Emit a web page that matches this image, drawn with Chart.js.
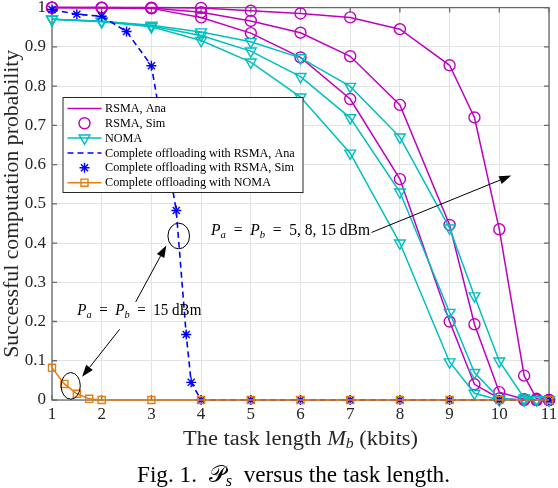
<!DOCTYPE html>
<html><head><meta charset="utf-8">
<script src="https://cdn.jsdelivr.net/npm/chart.js@4/dist/chart.umd.min.js"></script>
<style>html,body{margin:0;padding:0;background:#fff}canvas{display:block}</style>
</head><body>
<canvas id="c" width="558" height="488"></canvas>
<script>
// ---------------- data ----------------
const taskLen   = [1, 2, 3, 4, 5, 6, 7, 8, 9, 9.5, 10, 10.5, 10.75, 11];
const rsmaP15   = [1.0, 1.0, 1.0, 0.999, 0.992, 0.985, 0.975, 0.945, 0.853, 0.72, 0.435, 0.062, 0.003, 0.0];
const rsmaP8    = [1.0, 1.0, 0.999, 0.988, 0.966, 0.936, 0.876, 0.752, 0.446, 0.193, 0.02, 0.002, 0.0, 0.0];
const rsmaP5    = [1.0, 0.999, 0.998, 0.975, 0.935, 0.873, 0.767, 0.563, 0.2, 0.04, 0.004, 0.0, 0.0, 0.0];
const nomaP15   = [0.97, 0.965, 0.955, 0.938, 0.913, 0.872, 0.799, 0.67, 0.438, 0.265, 0.099, 0.005, 0.001, 0.0];
const nomaP8    = [0.97, 0.965, 0.953, 0.929, 0.889, 0.824, 0.719, 0.53, 0.223, 0.07, 0.004, 0.0, 0.0, 0.0];
const nomaP5    = [0.97, 0.964, 0.951, 0.916, 0.861, 0.772, 0.629, 0.40, 0.097, 0.017, 0.0, 0.0, 0.0, 0.0];
const coRsmaLen = [1, 1.5, 2, 2.5, 3, 3.5, 3.7, 3.8, 4, 5, 6, 7, 8, 9, 10, 11];
const coRsma    = [0.995, 0.983, 0.978, 0.939, 0.852, 0.483, 0.167, 0.045, 0, 0, 0, 0, 0, 0, 0, 0];
const coNomaLen = [1, 1.25, 1.5, 1.75, 2, 3, 4, 5, 6, 7, 8, 9, 10, 11];
const coNoma    = [0.082, 0.041, 0.016, 0.003, 0, 0, 0, 0, 0, 0, 0, 0, 0, 0];
const xTickValues = [1, 2, 3, 4, 5, 6, 7, 8, 9, 10, 11];
const xTickLabels = ['1', '2', '3', '4', '5', '6', '7', '8', '9', '10', '11'];
const yTickValues = [0, 0.1, 0.2, 0.3, 0.4, 0.5, 0.6, 0.7, 0.8, 0.9, 1];
const yTickLabels = ['0', '0.1', '0.2', '0.3', '0.4', '0.5', '0.6', '0.7', '0.8', '0.9', '1'];
const legendLabels = ['RSMA, Ana', 'RSMA, Sim', 'NOMA', 'Complete offloading with RSMA, Ana',
                      'Complete offloading with RSMA, Sim', 'Complete offloading with NOMA'];
const noteText1 = '5, 8, 15 dBm';
const noteText2 = '15 dBm';

// ---------------- styles ----------------
const SERIF = '"Liberation Serif", "Times New Roman", serif';
const MAG = '#BF00BF', CYA = '#00BFBF', BLU = '#0000FF', ORA = '#E47E12';
const AXC = '#262626';

const zip = (xs, ys) => xs.map((x, i) => ({x: x, y: ys[i]}));

function anaLine(ys) {
  return {data: zip(taskLen, ys), borderColor: MAG, borderWidth: 1.5, pointRadius: 0,
          showLine: true, fill: false, clip: false, order: 6};
}
function simPts(ys) {
  return {data: zip(taskLen, ys), borderColor: MAG, backgroundColor: 'rgba(0,0,0,0)', showLine: false,
          pointStyle: 'circle', pointRadius: 5.5, pointBorderWidth: 1.4, pointBorderColor: MAG,
          pointBackgroundColor: 'rgba(0,0,0,0)', clip: false, order: 5};
}
function nomaSet(ys) {
  return {data: zip(taskLen, ys), borderColor: CYA, borderWidth: 1.5, showLine: true, fill: false,
          pointStyle: 'triangle', pointRotation: 180, pointRadius: 6.2, pointBorderWidth: 1.4,
          pointBorderColor: CYA, pointBackgroundColor: 'rgba(0,0,0,0)', clip: false, order: 4};
}

const datasets = [
  anaLine(rsmaP15), anaLine(rsmaP8), anaLine(rsmaP5),
  simPts(rsmaP15), simPts(rsmaP8), simPts(rsmaP5),
  nomaSet(nomaP15), nomaSet(nomaP8), nomaSet(nomaP5),
  {data: zip(coRsmaLen, coRsma), borderColor: BLU, borderWidth: 1.6, borderDash: [6, 4], pointRadius: 0,
   showLine: true, fill: false, clip: false, order: 3},
  {data: zip(coRsmaLen, coRsma), showLine: false, pointStyle: 'star', pointRadius: 5, pointBorderWidth: 1.4,
   pointBorderColor: BLU, pointBackgroundColor: 'rgba(0,0,0,0)', borderColor: BLU, clip: false, order: 2},
  {data: zip(coNomaLen, coNoma), borderColor: ORA, borderWidth: 1.5, showLine: true, fill: false,
   pointStyle: 'rect', pointRadius: 5, pointBorderWidth: 1.4, pointBorderColor: ORA,
   pointBackgroundColor: 'rgba(0,0,0,0)', clip: false, order: 1}
];

// ---------------- drawing helpers ----------------
function richText(ctx, parts, x, y, W, align, color) {
  const widths = parts.map(p => { ctx.font = p.f; return ctx.measureText(p.t).width; });
  const w = widths.reduce((a, b) => a + b, 0);
  const sx = W ? W / w : 1;
  ctx.save();
  const x0 = align === 'center' ? x - w * sx / 2 : x;
  ctx.translate(x0, y);
  ctx.scale(sx, 1);
  ctx.textBaseline = 'alphabetic';
  ctx.textAlign = 'left';
  let cx = 0;
  parts.forEach((p, i) => {
    ctx.font = p.f; ctx.fillStyle = p.c || color;
    ctx.fillText(p.t, cx, p.dy || 0);
    cx += widths[i];
  });
  ctx.restore();
}
function arrow(ctx, x1, y1, x2, y2) {
  const a = Math.atan2(y2 - y1, x2 - x1), L = 12, H = 4.2;
  const bx = x2 - L * Math.cos(a), by = y2 - L * Math.sin(a);
  ctx.beginPath(); ctx.moveTo(x1, y1); ctx.lineTo(bx, by); ctx.stroke();
  ctx.beginPath(); ctx.moveTo(x2, y2);
  ctx.lineTo(bx - H * Math.sin(a), by + H * Math.cos(a));
  ctx.lineTo(bx + H * Math.sin(a), by - H * Math.cos(a));
  ctx.closePath(); ctx.fill();
}
function pEq(size, tail) {
  const it = 'italic ' + size + 'px ' + SERIF, sub = 'italic ' + Math.round(size * 0.7) + 'px ' + SERIF,
        rm = size + 'px ' + SERIF;
  return [{t: 'P', f: it}, {t: 'a', f: sub, dy: 3}, {t: '  =  ', f: rm}, {t: 'P', f: it},
          {t: 'b', f: sub, dy: 3}, {t: '  =  ', f: rm}, {t: tail, f: rm}];
}

const decor = {
  id: 'decor',
  beforeDatasetsDraw(chart) {
    const {ctx, chartArea: ca, scales} = chart;
    ctx.save();
    ctx.strokeStyle = '#6a6a6a'; ctx.lineWidth = 1.3;
    ctx.strokeRect(ca.left, ca.top, ca.right - ca.left, ca.bottom - ca.top);
    ctx.beginPath();
    const T = 5;
    xTickValues.forEach(v => {
      const px = scales.x.getPixelForValue(v);
      ctx.moveTo(px, ca.bottom); ctx.lineTo(px, ca.bottom - T);
      ctx.moveTo(px, ca.top); ctx.lineTo(px, ca.top + T);
    });
    yTickValues.forEach(v => {
      const py = scales.y.getPixelForValue(v);
      ctx.moveTo(ca.left, py); ctx.lineTo(ca.left + T, py);
      ctx.moveTo(ca.right, py); ctx.lineTo(ca.right - T, py);
    });
    ctx.stroke();
    ctx.restore();
  },
  afterDraw(chart) {
    const {ctx, chartArea: ca, scales} = chart;
    const X = v => scales.x.getPixelForValue(v), Y = v => scales.y.getPixelForValue(v);
    ctx.save();

    // ---- legend ----
    const lg = {l: 63, t: 97.5, r: 303, b: 192.5, row0: 108.4, dy: 14.85, x1: 67.5, x2: 101.5, tx: 105};
    ctx.fillStyle = '#fff'; ctx.fillRect(lg.l, lg.t, lg.r - lg.l, lg.b - lg.t);
    ctx.strokeStyle = AXC; ctx.lineWidth = 1; ctx.strokeRect(lg.l, lg.t, lg.r - lg.l, lg.b - lg.t);
    const entries = [
      {c: MAG, line: true, dash: []},
      {c: MAG, pt: 'circle', r: 5.5},
      {c: CYA, line: true, dash: [], pt: 'triangle', rot: 180, r: 6.2},
      {c: BLU, line: true, dash: [6, 4]},
      {c: BLU, pt: 'star', r: 5},
      {c: ORA, line: true, dash: [], pt: 'rect', r: 5}
    ];
    entries.forEach((e, i) => {
      const y = lg.row0 + i * lg.dy;
      ctx.strokeStyle = e.c; ctx.lineWidth = 1.5;
      if (e.line) {
        ctx.setLineDash(e.dash); ctx.beginPath(); ctx.moveTo(lg.x1, y); ctx.lineTo(lg.x2, y); ctx.stroke();
        ctx.setLineDash([]);
      }
      if (e.pt) {
        ctx.fillStyle = 'rgba(0,0,0,0)'; ctx.lineWidth = 1.4;
        Chart.helpers.drawPoint(ctx, {pointStyle: e.pt, rotation: e.rot || 0, radius: e.r, borderWidth: 1.4},
                                (lg.x1 + lg.x2) / 2, y);
      }
      ctx.fillStyle = '#000'; ctx.font = '12.2px ' + SERIF; ctx.textBaseline = 'middle'; ctx.textAlign = 'left';
      ctx.fillText(legendLabels[i], lg.tx, y + 0.5);
    });

    // ---- annotations ----
    ctx.strokeStyle = '#000'; ctx.fillStyle = '#000'; ctx.lineWidth = 1;
    const ellipses = [{x: 3.55, y: 0.418, rx: 10.8, ry: 12.8}, {x: 1.376, y: 0.036, rx: 9.6, ry: 13.3}];
    ellipses.forEach(e => { ctx.beginPath(); ctx.ellipse(X(e.x), Y(e.y), e.rx, e.ry, 0, 0, Math.PI * 2); ctx.stroke(); });
    const arrows = [
      {x1: 2.684, y1: 0.25, x2: 3.30, y2: 0.394},
      {x1: 2.36, y1: 0.18, x2: 1.605, y2: 0.059},
      {x1: 7.43, y1: 0.427, x2: 10.24, y2: 0.572}
    ];
    arrows.forEach(a => arrow(ctx, X(a.x1), Y(a.y1), X(a.x2), Y(a.y2)));
    richText(ctx, pEq(16, noteText1), X(4.2), Y(0.421), 159, 'left', '#000');
    richText(ctx, pEq(16, noteText2), X(1.51), Y(0.217), 124, 'left', '#000');

    // ---- axis titles ----
    richText(ctx, [{t: 'The task length ', f: '20px ' + SERIF}, {t: 'M', f: 'italic 20px ' + SERIF},
                   {t: 'b', f: 'italic 14px ' + SERIF, dy: 3.5}, {t: ' (kbits)', f: '20px ' + SERIF}],
             (ca.left + ca.right) / 2, 444.5, 235, 'center', AXC);
    ctx.save();
    ctx.translate(17.5, (ca.top + ca.bottom) / 2);
    ctx.rotate(-Math.PI / 2);
    richText(ctx, [{t: 'Successful computation probability', f: '20px ' + SERIF}], 0, 0, 308, 'center', AXC);
    ctx.restore();

    // ---- caption ----
    richText(ctx, [{t: 'Fig. 1.  ', f: '23px ' + SERIF},
                   {t: '\u{1D4AB}', f: '23px "DejaVu Serif", "DejaVu Sans", serif'},
                   {t: 's', f: 'italic 16px ' + SERIF, dy: 4},
                   {t: '  versus the task length.', f: '23px ' + SERIF}],
             293.5, 482, 313, 'center', '#000');
    ctx.restore();
  }
};

new Chart(document.getElementById('c'), {
  type: 'line',
  data: {datasets: datasets},
  options: {
    responsive: false, animation: false, events: [],
    layout: {padding: {top: 7, right: 9, left: 0, bottom: 0}},
    plugins: {legend: {display: false}, tooltip: {enabled: false}},
    scales: {
      x: {
        type: 'linear', min: 1, max: 11,
        afterBuildTicks: s => { s.ticks = xTickValues.map(v => ({value: v})); },
        afterFit: s => { s.height = 88; s.paddingLeft = 0; s.paddingRight = 0; },
        ticks: {callback: (v, i) => xTickLabels[i], font: {family: SERIF, size: 17}, color: AXC,
                padding: 4, maxRotation: 0, autoSkip: false},
        grid: {color: '#e3e3e3', lineWidth: 1, drawTicks: false},
        border: {display: false}
      },
      y: {
        type: 'linear', min: 0, max: 1,
        afterBuildTicks: s => { s.ticks = yTickValues.map(v => ({value: v})); },
        afterFit: s => { s.width = 52; s.paddingTop = 0; s.paddingBottom = 0; },
        ticks: {callback: (v, i) => yTickLabels[i], font: {family: SERIF, size: 17}, color: AXC,
                padding: 6, autoSkip: false},
        grid: {color: '#e3e3e3', lineWidth: 1, drawTicks: false},
        border: {display: false}
      }
    }
  },
  plugins: [decor]
});
</script>
</body></html>
